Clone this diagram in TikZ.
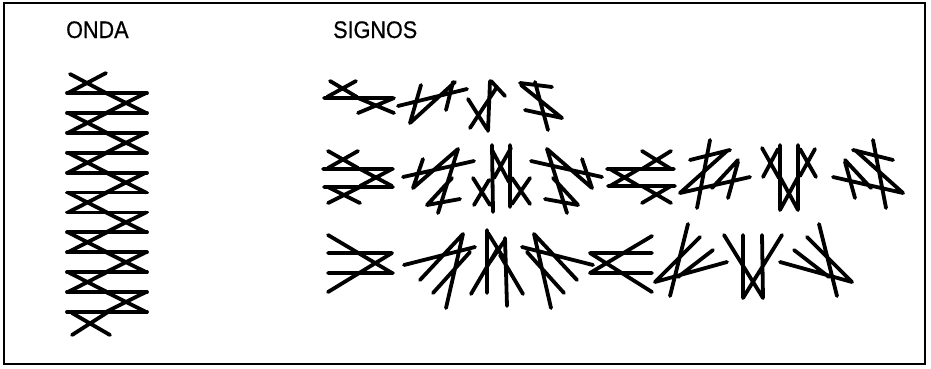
\documentclass[tikz,border=0pt]{standalone}
\usepackage{fontspec}
\setmainfont{Liberation Sans}
\newfontfamily\headfont[FakeStretch=0.9,FakeBold=0.6]{Liberation Sans}
\definecolor{ink}{HTML}{000000}
\tikzset{
  frame/.style={draw=ink,line width=1.6pt},
  glyph/.style={draw=ink,line width=3.8pt,line cap=round},
  heading/.style={font=\headfont\fontsize{24}{28}\selectfont,text=ink,anchor=base west,inner sep=0pt}
}

\begin{document}
\begin{tikzpicture}[x=1pt,y=-1pt]
  \useasboundingbox (0,0) rectangle (931,368);
  \draw[frame] (4,3) rectangle (925,364);

  \node[heading] (onda) at (66,38) {ONDA};
  \node[heading] (signos) at (333,38) {SIGNOS};

  % onda
  \foreach \k in {0,...,11}
    \draw[glyph] (67,{93+19.9*\k}) -- (147,{93+19.9*\k});
  \foreach \k in {0,2,...,10}
    \draw[glyph] (106,{93+19.9*\k}) -- (146,{112.9+19.9*\k})
                 (146,{93+19.9*\k}) -- (106,{112.9+19.9*\k});
  \foreach \k in {1,3,...,9}
    \draw[glyph] (68,{93+19.9*\k}) -- (107,{112.9+19.9*\k})
                 (107,{93+19.9*\k}) -- (68,{112.9+19.9*\k});
  \draw[glyph] (70,74) -- (106,93) (106,73) -- (68,93);
  \draw[glyph] (72,313) -- (110,335) (108,312) -- (72,335);

  % signos, fila 1
  \draw[glyph] (330,81) -- (357,97) (356,81) -- (327,97) (324,98) -- (393,98)
               (358,98) -- (394,113) (394,98) -- (358,113);
  \draw[glyph] (398,106) -- (467,89) (421,85) -- (410,123) (410,123) -- (455,82)
               (453,82) -- (446,110);
  \draw[glyph] (488,131) -- (490,81) (468,99) -- (487,129) (470,128) -- (497,87)
               (491,81) -- (505,96);
  \draw[glyph] (520,83) -- (552,87) (521,85) -- (562,118) (525,110) -- (562,118)
               (535,82) -- (548,130);

  % signos, fila 2
  \draw[glyph] (328,151) -- (358,168) (358,151) -- (328,168) (323,169) -- (393,169)
               (360,169) -- (392,186) (392,169) -- (360,186) (324,187) -- (393,187)
               (328,187) -- (360,203) (360,187) -- (328,203);
  \draw[glyph] (403,177) -- (474,161) (423,159) -- (413,188) (413,188) -- (458,149)
               (458,149) -- (438,213) (427,205) -- (460,199) (427,205) -- (452,178);
  \draw[glyph] (492,145) -- (493,212) (510,145) -- (510,207) (492,150) -- (509,182)
               (511,148) -- (494,178) (473,178) -- (490,205) (474,205) -- (489,180)
               (512,178) -- (530,204) (530,178) -- (512,204);
  \draw[glyph] (602,177) -- (531,161) (582,159) -- (592,188) (592,188) -- (547,149)
               (547,149) -- (567,213) (578,205) -- (545,199) (578,205) -- (553,178);
  \draw[glyph] (607,169) -- (674,169) (608,186) -- (675,186)
               (642,151) -- (671,169) (671,151) -- (642,169)
               (610,169) -- (639,186) (639,169) -- (610,186)
               (642,186) -- (671,203) (671,186) -- (642,203);
  \draw[glyph] (690,160) -- (730,150) (710,140) -- (697,208) (728,150) -- (680,193)
               (680,193) -- (750,177) (738,160) -- (712,188) (738,162) -- (728,198);
  \draw[glyph] (780,145) -- (780,210) (798,145) -- (798,210)
               (762,148) -- (779,178) (778,149) -- (763,177)
               (800,149) -- (816,177) (815,149) -- (800,176)
               (780,177) -- (798,210) (798,177) -- (780,210);
  \draw[glyph] (893,160) -- (853,150) (873,140) -- (886,208) (855,150) -- (903,193)
               (903,193) -- (833,177) (845,160) -- (871,188) (845,162) -- (855,198);

  % signos, fila 3
  \draw[glyph] (328,253) -- (392,253) (328,273) -- (393,273)
               (328,235) -- (392,273) (328,292) -- (392,253);
  \draw[glyph] (404,265) -- (475,247) (420,280) -- (463,234) (433,293) -- (470,252)
               (463,234) -- (446,308);
  \draw[glyph] (487,230) -- (487,293) (505,238) -- (507,306) (488,233) -- (506,262)
               (505,240) -- (490,262) (471,294) -- (498,248) (500,255) -- (523,294);
  \draw[glyph] (593,265) -- (522,247) (577,280) -- (534,234) (564,293) -- (527,252)
               (534,234) -- (551,308);
  \draw[glyph] (590,253) -- (652,253) (590,273) -- (652,273)
               (652,236) -- (590,273) (652,292) -- (590,253);
  \draw[glyph] (688,224) -- (670,296) (700,237) -- (655,282) (655,282) -- (727,262)
               (713,250) -- (678,277);
  \draw[glyph] (743,235) -- (743,298) (762,235) -- (763,298)
               (724,235) -- (763,298) (782,235) -- (743,298);
  \draw[glyph] (819,224) -- (837,296) (807,237) -- (852,282) (852,282) -- (780,262)
               (794,250) -- (829,277);
\end{tikzpicture}
\end{document}
